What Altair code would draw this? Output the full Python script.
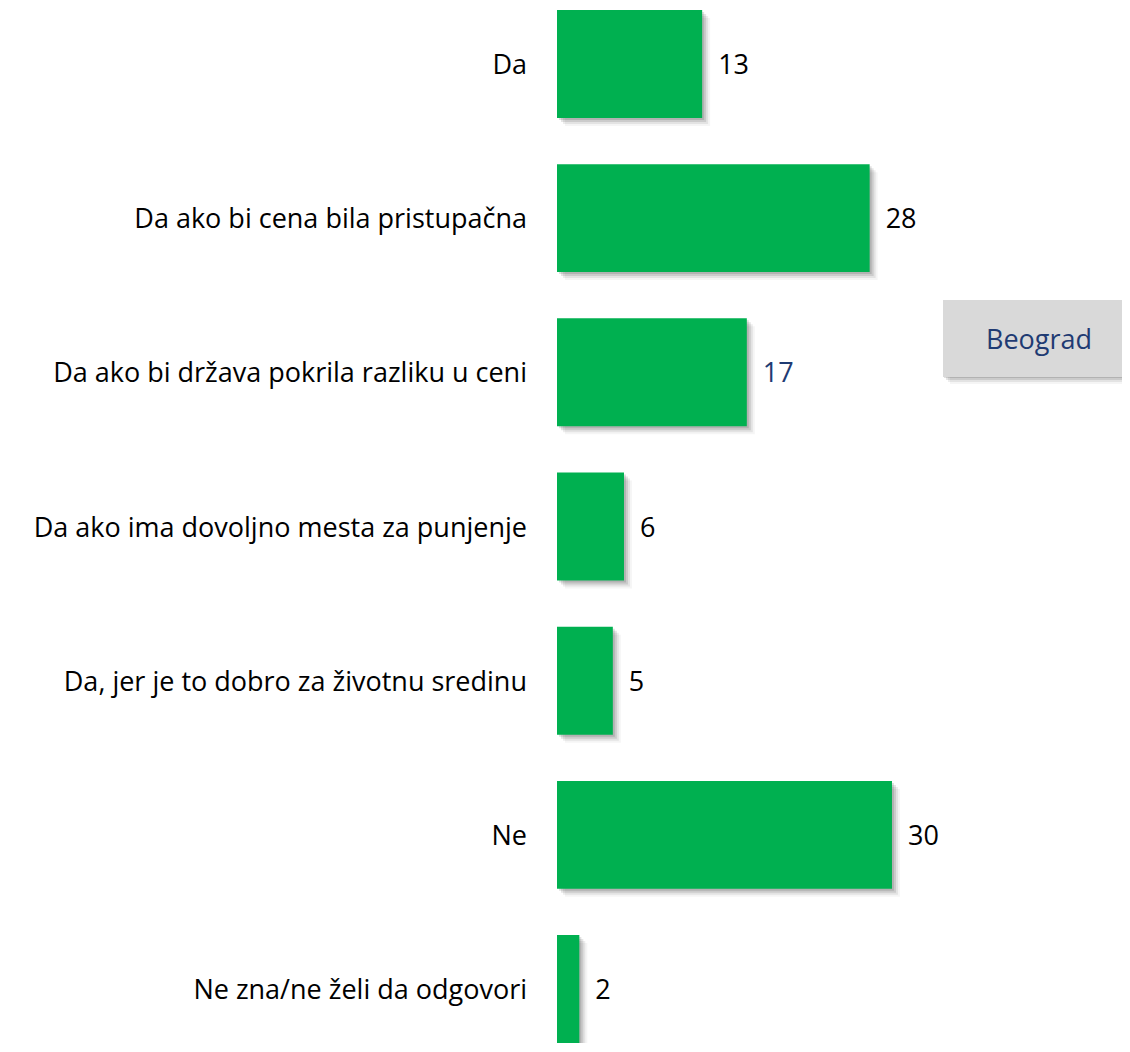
import altair as alt
import pandas as pd

categories = [
    "Da",
    "Da ako bi cena bila pristupačna",
    "Da ako bi država pokrila razliku u ceni",
    "Da ako ima dovoljno mesta za punjenje",
    "Da, jer je to dobro za životnu sredinu",
    "Ne",
    "Ne zna/ne želi da odgovori",
]
values = [13, 28, 17, 6, 5, 30, 2]
label_colors = ["#000000", "#000000", "#1F3B73", "#000000", "#000000", "#000000", "#000000"]

df = pd.DataFrame({"cat": categories, "val": values, "lc": label_colors})

FONT = "Open Sans"
FS = 27
W, H = 565, 1033

y = alt.Y("cat:N", sort=categories, axis=None,
          scale=alt.Scale(paddingInner=0.3, paddingOuter=0))
x = alt.X("val:Q", axis=None, scale=alt.Scale(domain=[0, 50.6], nice=False))

base = alt.Chart(df)

shadows = [
    base.mark_bar(color="#000000", opacity=op, xOffset=o, x2Offset=o, yOffset=o, y2Offset=o)
    .encode(x=x, y=y)
    for o, op in [(8, 0.04), (6, 0.07), (4, 0.1), (2, 0.12)]
]

bars = base.mark_bar(color="#00B050").encode(x=x, y=y)

vals = base.mark_text(align="left", baseline="middle", dx=16, dy=2, fontSize=FS, font=FONT).encode(
    x=x, y=y, text="val:Q", color=alt.Color("lc:N", scale=None)
)

cats = base.mark_text(align="right", baseline="middle", dx=-30, dy=2, fontSize=FS, font=FONT, color="#000000").encode(
    x=alt.value(0), y=y, text="cat:N"
)

box_shadow = [
    alt.Chart(pd.DataFrame({"a": [0]})).mark_rect(color="#000000", opacity=op).encode(
        x=alt.value(386 + o), x2=alt.value(600), y=alt.value(290 + o), y2=alt.value(367 + o)
    )
    for o, op in [(7, 0.04), (5, 0.07), (3, 0.1), (1, 0.12)]
]
box = alt.Chart(pd.DataFrame({"a": [0]})).mark_rect(color="#D9D9D9").encode(
    x=alt.value(386), x2=alt.value(600), y=alt.value(290), y2=alt.value(367)
)
box_text = alt.Chart(pd.DataFrame({"t": ["Beograd"]})).mark_text(
    fontSize=FS, font=FONT, color="#1F3B73", align="center", baseline="middle"
).encode(x=alt.value(482), y=alt.value(331), text="t:N")

chart = alt.layer(*shadows, bars, vals, cats, *box_shadow, box, box_text).properties(
    width=W, height=H,
    padding={"left": 549, "top": 2, "right": 0, "bottom": 0},
    autosize=alt.AutoSizeParams(type="none"),
).configure_view(stroke=None)

chart.save("out.html", embed_options={"renderer": "svg", "actions": False})
